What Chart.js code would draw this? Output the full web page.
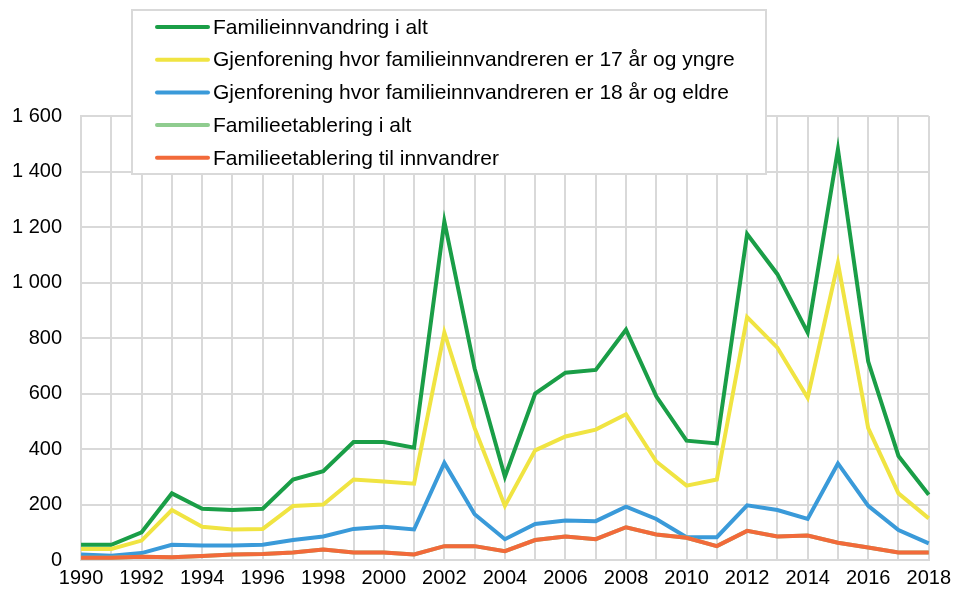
<!DOCTYPE html>
<html>
<head>
<meta charset="utf-8">
<script src="https://cdn.jsdelivr.net/npm/chart.js@4.4.1/dist/chart.umd.min.js"></script>
<style>
  html, body { margin: 0; padding: 0; background: #fff; overflow: hidden; }
  canvas { display: block; }
</style>
</head>
<body>
<canvas id="chart" width="957" height="591"></canvas>
<script>
// Years on the x axis
const years = [];
for (let y = 1990; y <= 2018; y++) years.push(String(y));

// Series values
const familieinnvandring = [55, 55, 100, 240, 185, 180, 185, 290, 320, 425, 425, 405, 1220, 690, 300, 600, 675, 685, 830, 590, 430, 420, 1175, 1030, 820, 1480, 715, 375, 235];
const under18 = [40, 40, 70, 180, 120, 110, 112, 195, 200, 290, 283, 275, 820, 475, 195, 395, 445, 470, 525, 355, 268, 290, 875, 765, 585, 1070, 475, 240, 150];
const over18 = [20, 15, 25, 55, 52, 52, 55, 72, 85, 112, 120, 110, 350, 165, 75, 130, 142, 140, 192, 148, 82, 82, 197, 180, 148, 348, 195, 108, 60];
const etableringAlt = [8, 8, 12, 10, 14, 20, 22, 27, 38, 27, 27, 20, 50, 50, 32, 72, 85, 75, 118, 92, 80, 50, 105, 85, 88, 62, 45, 27, 27];
const etableringInnv = [8, 8, 12, 10, 14, 20, 22, 27, 38, 27, 27, 20, 50, 50, 32, 72, 85, 75, 118, 92, 80, 50, 105, 85, 88, 62, 45, 27, 27];

const seriesNames = [
    'Familieinnvandring i alt',
    'Gjenforening hvor familieinnvandreren er 17 år og yngre',
    'Gjenforening hvor familieinnvandreren er 18 år og eldre',
    'Familieetablering i alt',
    'Familieetablering til innvandrer'
];
const seriesColors = ['#1a9e47', '#f0e442', '#3a9ad9', '#8fcc8f', '#f26a3a'];

const FONT = 'Liberation Sans, Arial, sans-serif';

// Legend box drawn over the plot area
const boxLegend = {
    id: 'boxLegend',
    afterDraw(chart) {
        const ctx = chart.ctx;
        const x = 132, y = 10, w = 634, h = 164;
        ctx.save();
        ctx.fillStyle = '#fff';
        ctx.fillRect(x, y, w, h);
        ctx.strokeStyle = '#d9d9d9';
        ctx.lineWidth = 2;
        ctx.strokeRect(x, y, w, h);
        ctx.font = '21px ' + FONT;
        ctx.textBaseline = 'middle';
        chart.data.datasets.forEach((ds, i) => {
            const ry = 27 + i * 32.7;
            ctx.strokeStyle = ds.borderColor;
            ctx.lineWidth = 4;
            ctx.lineCap = 'round';
            ctx.beginPath();
            ctx.moveTo(157, ry);
            ctx.lineTo(208, ry);
            ctx.stroke();
            ctx.fillStyle = '#000';
            ctx.fillText(ds.label, 213, ry + 1);
        });
        ctx.restore();
    }
};

const dataSets = [familieinnvandring, under18, over18, etableringAlt, etableringInnv];

new Chart(document.getElementById('chart'), {
    type: 'line',
    data: {
        labels: years,
        datasets: seriesNames.map((name, i) => ({
            label: name,
            data: dataSets[i],
            borderColor: seriesColors[i],
            backgroundColor: seriesColors[i],
            borderWidth: 4,
            pointRadius: 0,
            tension: 0,
            fill: false,
            order: seriesNames.length - i
        }))
    },
    options: {
        responsive: false,
        animation: false,
        layout: { padding: { top: 116, left: -7, right: 0, bottom: -10 } },
        plugins: {
            legend: { display: false },
            tooltip: { enabled: false }
        },
        scales: {
            x: {
                offset: false,
                grid: { color: '#d9d9d9', lineWidth: 2, drawTicks: false },
                border: { color: '#d9d9d9', width: 2 },
                ticks: {
                    autoSkip: false,
                    maxRotation: 0,
                    color: '#000',
                    padding: 6,
                    font: { family: FONT, size: 20 },
                    callback: function (val, idx) {
                        return idx % 2 === 0 ? this.getLabelForValue(val) : '';
                    }
                }
            },
            y: {
                min: 0,
                max: 1600,
                grid: { color: '#d9d9d9', lineWidth: 2, drawTicks: false },
                border: { color: '#d9d9d9', width: 2 },
                ticks: {
                    stepSize: 200,
                    color: '#000',
                    padding: 19,
                    font: { family: FONT, size: 20 },
                    callback: v => String(v).replace(/\B(?=(\d{3})+(?!\d))/g, ' ')
                }
            }
        }
    },
    plugins: [boxLegend]
});
</script>
</body>
</html>
